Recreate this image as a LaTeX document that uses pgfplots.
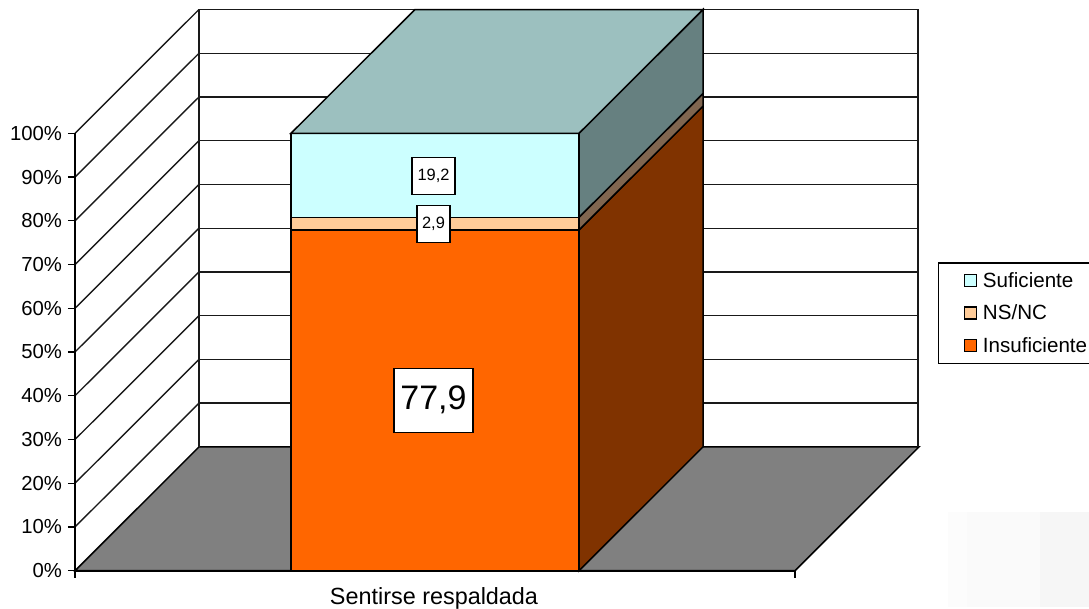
\documentclass[border=0pt]{standalone}
\usepackage{fontspec}
\setmainfont{Liberation Sans}
\usepackage{pgfplots}
\pgfplotsset{compat=1.18}
\definecolor{cOr}{HTML}{FF6600}
\definecolor{cPe}{HTML}{FFCC99}
\definecolor{cCy}{HTML}{CCFFFF}
\definecolor{cOrS}{HTML}{803300}
\definecolor{cPeS}{HTML}{806650}
\definecolor{cCyS}{HTML}{668080}
\definecolor{cTop}{HTML}{9CC0BF}
\definecolor{cFl}{HTML}{808080}
\pgfplotsset{
  face/.style={draw=black,line width=1.5pt,line join=miter,forget plot},
  wall/.style={draw=black!90,line width=1.4pt,forget plot},
  band/.style={draw=none,forget plot},
  sq/.style={legend image code/.code={\draw[line width=1.3pt,##1] (0pt,-6pt) rectangle (12pt,6pt);\path (16pt,0pt);}}
}
\begin{document}
\begin{tikzpicture}[x=1pt,y=1pt]
\useasboundingbox (-75pt,-37.3pt) rectangle (1014pt,570.7pt);
\begin{axis}[
  at={(0pt,0pt)},anchor=south west,
  scale only axis,width=720pt,height=437.4pt,
  xmin=75,xmax=795,ymin=0,ymax=100,clip=false,
  axis x line=bottom,axis y line=left,
  axis line style={-,line width=2pt,black},
  tick style={black,line width=1.4pt},
  tick align=outside,major tick length=7pt,
  xtick={75,795},xticklabels={},
  extra x ticks={434},extra x tick labels={Sentirse respaldada},
  extra x tick style={major tick length=0pt,tick label style={yshift=-13pt,font=\fontsize{23.4}{28}\selectfont}},
  ytick={0,10,20,30,40,50,60,70,80,90,100},
  yticklabels={0\%,10\%,20\%,30\%,40\%,50\%,60\%,70\%,80\%,90\%,100\%},
  ticklabel style={font=\fontsize{20.3}{24}\selectfont},
  y tick label style={xshift=-2.5pt},
  axis on top,
  legend style={at={(axis cs:938,70.5)},anchor=north west,draw=black,line width=1.3pt,
    font=\fontsize{20.6}{24}\selectfont,inner xsep=25pt,inner ysep=7.5pt,row sep=12pt,
    fill=white,legend cell align=left},
  sq,
]
% faint shading, lower right corner
\addplot[band,fill=black!1] coordinates {(948,13.5)(967,13.5)(967,-8.4)(948,-8.4)};
\addplot[band,fill=black!2] coordinates {(967,13.5)(1040,13.5)(1040,-8.4)(967,-8.4)};
\addplot[band,fill=black!3.5] coordinates {(1040,13.5)(1090,13.5)(1090,-8.4)(1040,-8.4)};
% floor
\addplot[face,fill=cFl] coordinates {(75,0)(795,0)(919,28.3)(199,28.3)} -- cycle;
% back wall
\addplot[wall] coordinates {(199,28.3)(199,128.3)(918,128.3)(918,28.3)};
\addplot[wall] coordinates {(199,38.3)(918,38.3)};
\addplot[wall] coordinates {(199,48.3)(918,48.3)};
\addplot[wall] coordinates {(199,58.3)(918,58.3)};
\addplot[wall] coordinates {(199,68.3)(918,68.3)};
\addplot[wall] coordinates {(199,78.3)(918,78.3)};
\addplot[wall] coordinates {(199,88.3)(918,88.3)};
\addplot[wall] coordinates {(199,98.3)(918,98.3)};
\addplot[wall] coordinates {(199,108.3)(918,108.3)};
\addplot[wall] coordinates {(199,118.3)(918,118.3)};
% side wall
\addplot[wall] coordinates {(75,10)(199,38.3)};
\addplot[wall] coordinates {(75,20)(199,48.3)};
\addplot[wall] coordinates {(75,30)(199,58.3)};
\addplot[wall] coordinates {(75,40)(199,68.3)};
\addplot[wall] coordinates {(75,50)(199,78.3)};
\addplot[wall] coordinates {(75,60)(199,88.3)};
\addplot[wall] coordinates {(75,70)(199,98.3)};
\addplot[wall] coordinates {(75,80)(199,108.3)};
\addplot[wall] coordinates {(75,90)(199,118.3)};
\addplot[wall] coordinates {(75,100)(199,128.3)};
% bar: Insuficiente
\addplot[face,fill=cOrS] coordinates {(579,0)(703,28.3)(703,106.2)(579,77.9)} -- cycle;
\addplot[face,fill=cOr] coordinates {(291,0)(579,0)(579,77.9)(291,77.9)} -- cycle;
% bar: NS/NC
\addplot[face,fill=cPeS] coordinates {(579,77.9)(703,106.2)(703,109.1)(579,80.8)} -- cycle;
\addplot[face,fill=cPe] coordinates {(291,77.9)(579,77.9)(579,80.8)(291,80.8)} -- cycle;
% bar: Suficiente
\addplot[face,fill=cCyS] coordinates {(579,80.8)(703,109.1)(703,128.3)(579,100)} -- cycle;
\addplot[face,fill=cCy] coordinates {(291,80.8)(579,80.8)(579,100)(291,100)} -- cycle;
\addplot[face,fill=cTop] coordinates {(291,100)(579,100)(703,128.3)(415,128.3)} -- cycle;
% data labels
\node[draw=black,fill=white,line width=1.2pt,inner sep=0pt,minimum width=79pt,minimum height=64pt,font=\fontsize{34}{40}\selectfont] at (axis cs:433.5,39) {77,9};
\node[draw=black,fill=white,line width=1.2pt,inner sep=0pt,minimum width=43pt,minimum height=37pt,font=\fontsize{16.4}{20}\selectfont] at (axis cs:433.5,90.3) {19,2};
\node[draw=black,fill=white,line width=1.2pt,inner sep=0pt,minimum width=33pt,minimum height=37pt,font=\fontsize{16.4}{20}\selectfont] at (axis cs:433.5,79.3) {2,9};
% legend
\addlegendimage{fill=cCy,draw=black}\addlegendentry{Suficiente}
\addlegendimage{fill=cPe,draw=black}\addlegendentry{NS/NC}
\addlegendimage{fill=cOr,draw=black}\addlegendentry{Insuficiente}
\end{axis}
\end{tikzpicture}
\end{document}
